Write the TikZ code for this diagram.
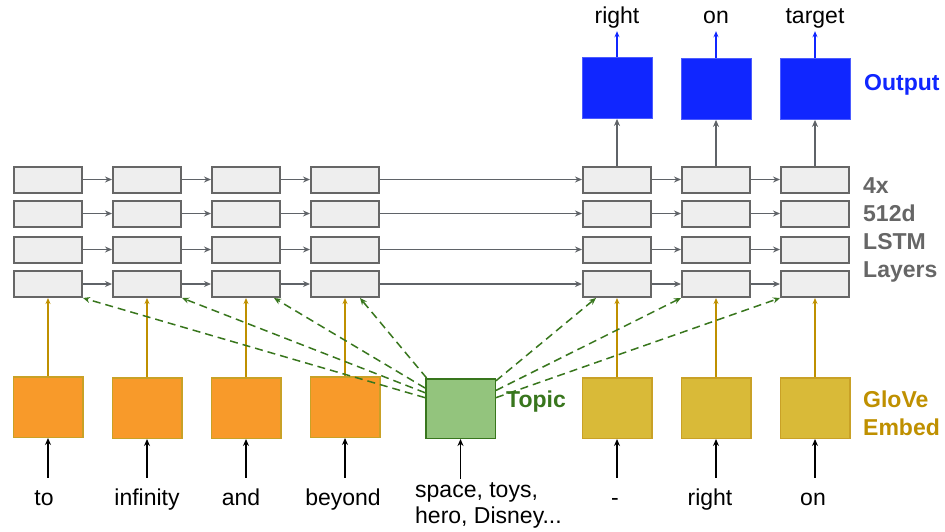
\documentclass[tikz,border=0pt]{standalone}
\usepackage{fontspec}
\setmainfont{Liberation Sans}
\usepackage{tikz}
\usetikzlibrary{arrows.meta}

\definecolor{cellfill}{HTML}{EEEEEE}
\definecolor{celldraw}{HTML}{666666}
\definecolor{linkgray}{HTML}{5F6368}
\definecolor{outblue}{HTML}{1026FF}
\definecolor{wordorange}{HTML}{F89A2A}
\definecolor{wordgold}{HTML}{D9BA38}
\definecolor{glovegold}{HTML}{BF9000}
\definecolor{topicfill}{HTML}{93C47D}
\definecolor{topicgreen}{HTML}{38761D}
\newcommand{\bigtxt}{\fontsize{23}{28}\selectfont}

\begin{document}
\begin{tikzpicture}[x=1pt, y=-1pt,
    cell/.style={rectangle, draw=celldraw, fill=cellfill, line width=2pt,
        minimum width=68pt, minimum height=26pt, inner sep=0pt},
    outbox/.style={rectangle, draw=outblue!75!white, fill=outblue, line width=0.8pt,
        minimum width=70pt, minimum height=61pt, inner sep=0pt},
    embox/.style={rectangle, draw=glovegold!85!white, line width=1.5pt,
        minimum width=69.5pt, minimum height=60.5pt, inner sep=0pt},
    word/.style={font=\bigtxt, text height=17pt, text depth=5pt, inner sep=3pt},
    tag/.style={font=\bigtxt\bfseries, align=left, anchor=base west, inner sep=0pt},
    link/.style={-{Stealth[length=7pt, width=6pt]}, line width=1.5pt, draw=linkgray},
    outlink/.style={-{Stealth[length=6pt, width=5pt]}, line width=1.5pt, draw=outblue},
    embedlink/.style={-{Stealth[length=6pt, width=5pt]}, line width=1.3pt, draw=glovegold},
    inlink/.style={-{Stealth[length=7pt, width=6pt]}, line width=1.6pt, shorten <=7pt},
    topiclink/.style={-{Stealth[length=7pt, width=6pt]}, line width=1.5pt, draw=topicgreen,
        dash pattern=on 8pt off 5pt}
]
    \useasboundingbox (0,0) rectangle (945,531);

    % stacked lstm cells, 7 steps x 4 layers
    \foreach \c/\x in {1/48,2/147,3/246,4/345,5/617,6/716,7/815} {
        \foreach \r/\y in {1/179.5,2/213.5,3/249.5,4/284} {
            \node[cell] at (\x,\y) (c\c_\r) {};
        }
    }
    \foreach \r in {1,...,4} {
        \foreach \a/\b in {1/2,2/3,3/4,4/5,5/6,6/7} {
            \draw[link] (c\a_\r) -- (c\b_\r);
        }
    }

    % output layer
    \node[outbox] at (617,88) (o5) {};
    \node[outbox] at (716,89) (o6) {};
    \node[outbox] at (815,89) (o7) {};
    \node[word, anchor=base] at (617,23) (y5) {right};
    \node[word, anchor=base] at (716,23) (y6) {on};
    \node[word, anchor=base] at (815,23) (y7) {target};
    \draw[link] (c5_1) -- (o5);
    \draw[link] (c6_1) -- (o6);
    \draw[link] (c7_1) -- (o7);
    \draw[outlink] (o5) -- (y5);
    \draw[outlink] (o6) -- (y6);
    \draw[outlink] (o7) -- (y7);

    % word embeddings
    \node[embox, fill=wordorange] at (48,407) (e1) {};
    \node[embox, fill=wordorange] at (147,408) (e2) {};
    \node[embox, fill=wordorange] at (246,408) (e3) {};
    \node[embox, fill=wordorange] at (345,407) (e4) {};
    \node[embox, fill=wordgold] at (617,408) (e5) {};
    \node[embox, fill=wordgold] at (716,408) (e6) {};
    \node[embox, fill=wordgold] at (815,408) (e7) {};
    \foreach \c in {1,...,7} {
        \draw[embedlink] (e\c) -- (c\c_4);
    }

    % input words
    \node[word, anchor=base] at (44,505) (w1) {to};
    \node[word, anchor=base] at (147,505) (w2) {infinity};
    \node[word, anchor=base] at (241,505) (w3) {and};
    \node[word, anchor=base] at (343,505) (w4) {beyond};
    \node[word, anchor=base] at (615,505) (w5) {-};
    \node[word, anchor=base] at (710,505) (w6) {right};
    \node[word, anchor=base] at (813,505) (w7) {on};
    \foreach \c in {1,...,7} {
        \draw[inlink] (w\c.north -| e\c) -- (e\c);
    }

    % topic vector
    \node[rectangle, draw=topicgreen, fill=topicfill, line width=1.5pt,
        minimum width=69.5pt, minimum height=59.5pt, inner sep=0pt] at (460.5,408.5) (topic) {};
    \node[font=\bigtxt, align=left, anchor=base west, inner sep=0pt] at (415,523) (tw)
        {space, toys,\\[-2pt]hero, Disney...};
    \draw[inlink, shorten <=3pt] (topic |- tw.north) -- (topic);
    \draw[topiclink] (topic.163) -- (c1_4.south east);
    \draw[topiclink] (topic.156) -- (c2_4.south east);
    \draw[topiclink] (topic.150) -- ([xshift=-7pt]c3_4.south east);
    \draw[topiclink] (topic.138) -- ([xshift=-20pt]c4_4.south east);
    \draw[topiclink] (topic.38) -- ([xshift=14pt]c5_4.south west);
    \draw[topiclink] (topic.27) -- (c6_4.south west);
    \draw[topiclink] (topic.17) -- (c7_4.south west);

    % side tags (base anchor sits on the last line)
    \node[tag, text=outblue] at (864,90) (out_lbl) {Output};
    \node[tag, text=celldraw] at (863,277) (lstm_lbl) {4x\\512d\\LSTM\\Layers};
    \node[tag, text=glovegold] at (863,435) (glove_lbl) {GloVe\\Embed};
    \node[tag, text=topicgreen] at (506,407) (topic_lbl) {Topic};
\end{tikzpicture}
\end{document}
